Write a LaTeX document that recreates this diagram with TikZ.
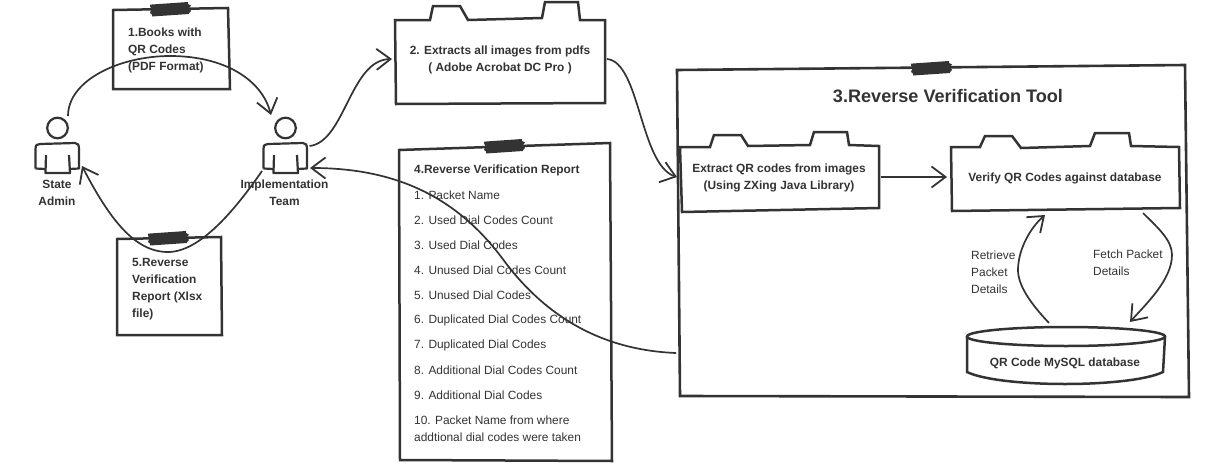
\documentclass[tikz,border=0pt]{standalone}
\usepackage{fontspec}
\setmainfont{Liberation Sans}
\usetikzlibrary{arrows.meta}
\definecolor{ink}{HTML}{333333}
\tikzset{
  holder/.style={inner sep=0pt,outer sep=0pt,minimum width=#1},
  outline/.style={draw=ink,line width=2.5pt,line join=miter,fill=white},
  thinout/.style={draw=ink,line width=2.2pt,line join=round,fill=white},
  conn/.style={draw=ink,line width=1.7pt,-{Straight Barb[length=14pt,width=21pt,line width=1.8pt]}},
  boldtxt/.style={inner sep=0pt,text=ink,align=left,font=\fontsize{11.9}{17}\selectfont\bfseries},
  boldc/.style={inner sep=0pt,text=ink,align=center,font=\fontsize{11.9}{17}\selectfont\bfseries},
  regtxt/.style={inner sep=0pt,text=ink,align=left,font=\fontsize{11.9}{17}\selectfont,anchor=west},
}
\newcommand{\tapemark}[2]{%
  \fill[ink,shift={(#1,#2)}] (0,2.5)--(2,2.5)--(38,0)--(38,2)--(41,3.5)--(39,6)--(41,9)--(39,11)--(39,12)--(2,14.5)--(2,12.5)--(0,11)--(1.5,7)--(0,4.5)--cycle;}
\begin{document}
\begin{tikzpicture}[x=1pt,y=-1pt]
\useasboundingbox (0,0) rectangle (1208,474);
\fill[white] (0,0) rectangle (1208,474);

% Note 1
\node[holder=117pt,minimum height=81pt] (note1) at (171.5,49) {};
\draw[outline] (113,10)--(228,8)--(230,89)--(113,89)--cycle;
\tapemark{150}{2}
\node[boldtxt,anchor=north west] (note1txt) at (128,28) {1.Books with\\QR Codes\\(PDF Format)};

% Note 5
\node[holder=105pt,minimum height=98pt] (note5) at (169.5,286) {};
\draw[outline] (117,239)--(221,237)--(222,335)--(117,335)--cycle;
\tapemark{148}{231}
\node[boldtxt,anchor=north west] (note5txt) at (132,258) {5.Reverse\\Verification\\Report (Xlsx\\file)};

% Package 2
\node[holder=210pt,minimum height=102pt] (pkg2) at (500,53) {};
\draw[outline] (395,20)--(430,20)--(433,6)--(460,6)--(468,20)--(542,18)--(545,2)--(578,2)--(580,20)--(605,20)--(605,103)--(396,104)--cycle;
\node[boldc] (pkg2txt) at (500,59.5) {2. Extracts all images from pdfs\\( Adobe Acrobat DC Pro )};

% Note 4
\node[holder=212pt,minimum height=318pt] (note4) at (505,302) {};
\draw[outline] (399,150)--(610,143)--(612,461)--(400,460)--cycle;
\tapemark{484}{139}
\node[boldtxt,anchor=west] (note4t) at (414,170.5) {4.Reverse Verification Report};
\node[regtxt] (i1) at (414,195.5) {1. Packet Name};
\node[regtxt] (i2) at (414,220.5) {2. Used Dial Codes Count};
\node[regtxt] (i3) at (414,245.5) {3. Used Dial Codes};
\node[regtxt] (i4) at (414,270.5) {4. Unused Dial Codes Count};
\node[regtxt] (i5) at (414,295.5) {5. Unused Dial Codes};
\node[regtxt] (i6) at (414,320.5) {6. Duplicated Dial Codes Count};
\node[regtxt] (i7) at (414,345.5) {7. Duplicated Dial Codes};
\node[regtxt] (i8) at (414,370.5) {8. Additional Dial Codes Count};
\node[regtxt] (i9) at (414,395.5) {9. Additional Dial Codes};
\node[regtxt,anchor=north west] (i10) at (414,416) {10. Packet Name from where\\addtional dial codes were taken};

% Tool frame
\node[holder=510pt,minimum height=330pt] (tool) at (933,231) {};
\draw[outline,line width=2.6pt] (677,70)--(1185,65)--(1189,397)--(680,396)--cycle;
\tapemark{911}{61}
\node[inner sep=0pt,text=ink,font=\fontsize{18.1}{20}\selectfont\bfseries] (tooltitle) at (948,96) {3.Reverse Verification Tool};

% Extract package
\node[holder=199pt,minimum height=80pt] (extract) at (780,172) {};
\draw[outline] (680,147)--(710,147)--(714,135)--(741,135)--(748,146)--(810,145)--(814,132)--(847,132)--(849,145)--(879,146)--(879,208)--(682,212)--cycle;
\node[boldc] (extracttxt) at (779,177.5) {Extract QR codes from images\\(Using ZXing Java Library)};

% Verify package
\node[holder=229pt,minimum height=78pt] (verify) at (1065.5,172) {};
\draw[outline] (951,147)--(980,147)--(985,136)--(1012,136)--(1021,148)--(1090,146)--(1095,133)--(1129,133)--(1131,146)--(1179,147)--(1180,208)--(952,211)--cycle;
\node[boldc] (verifytxt) at (1065,178) {Verify QR Codes against database};

% Database
\node[holder=198pt,minimum height=59pt] (db) at (1066,356) {};
\draw[outline] (967,337)--(967,372) .. controls (1000,388) and (1130,388) .. (1163,372)--(1165,337);
\draw[outline] (1066,336.5) ellipse [x radius=99,y radius=9.5];
\node[boldc] (dbtxt) at (1065,363) {QR Code MySQL database};

% Actors
\node[holder=45pt,minimum height=56pt] (admin) at (57.5,145) {};
\node[holder=45pt,minimum height=56pt] (impl) at (285.5,145) {};
\foreach \dx in {0,228}{
  \begin{scope}[shift={(\dx,0)}]
  \draw[thinout] (57.5,128) circle [radius=10.3];
  \draw[thinout,fill=none] (35.5,168.5)--(35.5,149) .. controls (35.5,145) and (37,144) .. (40,144)--(75,143) .. controls (78,143) and (79,145) .. (79,149)--(79,168.5)--(69.5,169);
  \draw[thinout,fill=none] (69,155)--(70,173)--(45.5,173)--(46,155);
  \draw[thinout,fill=none] (45.5,169)--(35.5,168.5);
  \end{scope}}
\node[boldc] (admintxt) at (57,193) {State\\Admin};
\node[boldc] (impltxt) at (284.5,193) {Implementation\\Team};

% Free text
\node[regtxt,anchor=north west] (retrieve) at (971,251) {Retrieve\\Packet\\Details};
\node[regtxt,anchor=north west] (fetch) at (1093,250) {Fetch Packet\\Details};

% Connectors
\draw[conn] ([xshift=10.5pt,yshift=1pt]admin.north) .. controls (68,80) and (120,56) .. (170,56) .. controls (225,56) and (262,80) .. ([xshift=-14.5pt,yshift=2pt]impl.north);
\draw[conn] ([xshift=-46pt,yshift=-26pt]impl.east) .. controls (235,210) and (200,252) .. (168,252) .. controls (135,252) and (110,220) .. ([xshift=2pt,yshift=-21pt]admin.east);
\draw[conn] ([xshift=1.5pt,yshift=-1pt]impl.east) .. controls (345,142) and (350,60) .. ([xshift=-3pt,yshift=-6pt]pkg2.west);
\draw[conn] ([xshift=2pt,yshift=-6pt]pkg2.east) .. controls (640,62) and (640,165) .. ([xshift=-1pt,yshift=54pt]tool.west);
\draw[conn] ([xshift=1pt,yshift=-5pt]extract.east) -- ([xshift=-4pt,yshift=-5pt]verify.west);
\draw[conn] ([xshift=-17pt,yshift=3.5pt]db.north) .. controls (1030,303) and (1018,285) .. (1018,270) .. controls (1018,250) and (1030,228) .. ([xshift=-20.5pt,yshift=-4pt]verify.south);
\draw[conn] ([xshift=77.5pt,yshift=-2pt]verify.south) .. controls (1158,228) and (1172,240) .. (1172,255) .. controls (1172,280) and (1145,305) .. ([xshift=64pt,yshift=4.5pt]db.north);
\draw[conn] ([xshift=-2pt,yshift=-122pt]tool.west) .. controls (600,350) and (545,315) .. (505,262) .. controls (460,200) and (400,168) .. ([xshift=2pt,yshift=-23pt]impl.east);
\end{tikzpicture}
\end{document}
